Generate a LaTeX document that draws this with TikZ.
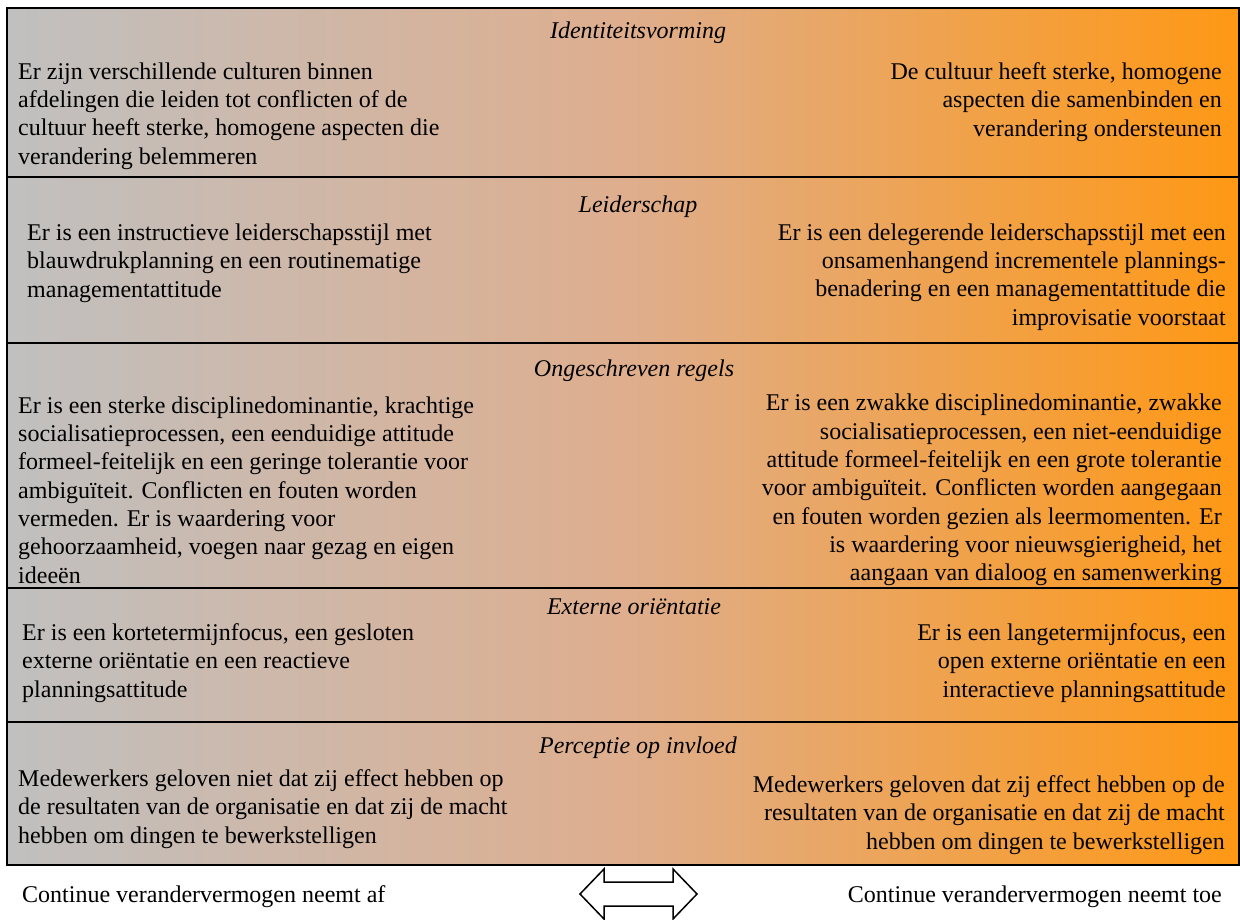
\documentclass[tikz,border=0pt]{standalone}
\usepackage{fontspec}
\setmainfont{Liberation Serif}
\usepackage{tikz}
\definecolor{grijs}{RGB}{192,192,192}
\definecolor{perzik}{RGB}{222,174,142}
\definecolor{oranje}{RGB}{255,152,20}

\begin{document}
\begin{tikzpicture}[x=1pt,y=-1pt,
  tekst/.style={inner sep=0pt,font=\fontsize{24}{28.3}\selectfont},
  links/.style={tekst,anchor=west,align=left},
  rechts/.style={tekst,anchor=east,align=right},
  kop/.style={inner sep=0pt,font=\fontsize{24}{28.3}\selectfont\itshape},
  lijn/.style={line width=2pt}]%cultuur en continu verandervermogen
\useasboundingbox (0,0) rectangle (1240,919);
%achtergrond met kleurverloop en rijen
\fill[left color=grijs,right color=oranje,middle color=perzik] (7,8) rectangle (1239,865);
\draw[lijn] (7,8) rectangle (1239,865);
\draw[lijn] (7,177) -- (1239,177); \draw[lijn] (7,343) -- (1239,343);
\draw[lijn] (7,588) -- (1239,588); \draw[lijn] (7,722) -- (1239,722);
%identiteitsvorming
\node[kop] (identiteit) at (638,33) {Identiteitsvorming};
\node[links] (identiteit-af) at (18,116) {Er zijn verschillende culturen binnen\\afdelingen die leiden tot conflicten of de\\cultuur heeft sterke, homogene aspecten die\\verandering belemmeren};
\node[rechts] (identiteit-toe) at (1222,102) {De cultuur heeft sterke, homogene\\aspecten die samenbinden en\\verandering ondersteunen};
%leiderschap
\node[kop] (leiderschap) at (638,207) {Leiderschap};
\node[links] (leiderschap-af) at (27,263) {Er is een instructieve leiderschapsstijl met\\blauwdrukplanning en een routinematige\\managementattitude};
\node[rechts] (leiderschap-toe) at (1226,277) {Er is een delegerende leiderschapsstijl met een\\onsamenhangend incrementele plannings-\\benadering en een managementattitude die\\improvisatie voorstaat};
%ongeschreven regels
\node[kop] (regels) at (634,371) {Ongeschreven regels};
\node[links] (regels-af) at (18,490) {Er is een sterke disciplinedominantie, krachtige\\socialisatieprocessen, een eenduidige attitude\\formeel-feitelijk en een geringe tolerantie voor\\ambiguïteit. Conflicten en fouten worden\\vermeden. Er is waardering voor\\gehoorzaamheid, voegen naar gezag en eigen\\ideeën};
\node[rechts] (regels-toe) at (1222,490) {Er is een zwakke disciplinedominantie, zwakke\\socialisatieprocessen, een niet-eenduidige\\attitude formeel-feitelijk en een grote tolerantie\\voor ambiguïteit. Conflicten worden aangegaan\\en fouten worden gezien als leermomenten. Er\\is waardering voor nieuwsgierigheid, het\\aangaan van dialoog en samenwerking};
%externe orientatie
\node[kop] (extern) at (634,607) {Externe oriëntatie};
\node[links] (extern-af) at (22,663) {Er is een kortetermijnfocus, een gesloten\\externe oriëntatie en een reactieve\\planningsattitude};
\node[rechts] (extern-toe) at (1226,663) {Er is een langetermijnfocus, een\\open externe oriëntatie en een\\interactieve planningsattitude};
%perceptie op invloed
\node[kop] (invloed) at (638,748) {Perceptie op invloed};
\node[links] (invloed-af) at (18,809) {Medewerkers geloven niet dat zij effect hebben op\\de resultaten van de organisatie en dat zij de macht\\hebben om dingen te bewerkstelligen};
\node[rechts] (invloed-toe) at (1225,815) {Medewerkers geloven dat zij effect hebben op de\\resultaten van de organisatie en dat zij de macht\\hebben om dingen te bewerkstelligen};
%onderschrift en dubbele pijl
\node[links] (neemt-af) at (22,897) {Continue verandervermogen neemt af};
\node[rechts] (neemt-toe) at (1222,897) {Continue verandervermogen neemt toe};
\draw[line width=1.5pt,fill=white] (580,894) -- (604,869) -- (604,882) -- (673,882) -- (673,869) -- (697,894) -- (673,919) -- (673,906) -- (604,906) -- (604,919) -- cycle;
\end{tikzpicture}
\end{document}
